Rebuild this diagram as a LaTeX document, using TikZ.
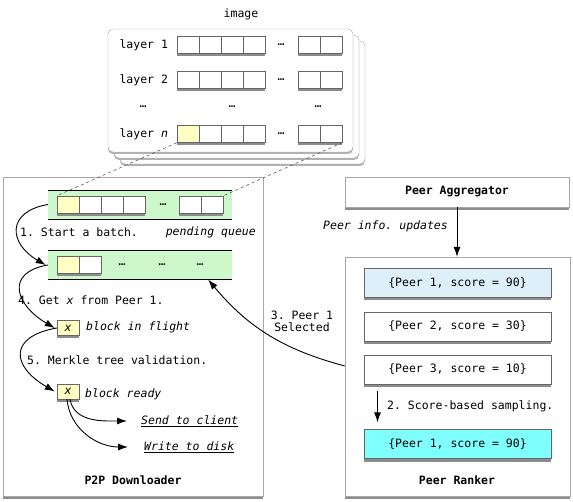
\documentclass[tikz,border=0pt]{standalone}
\usepackage{fontspec}
\setmainfont[Scale=1.15]{DejaVu Sans Mono}
\usepackage{tikz}
\usetikzlibrary{arrows.meta,positioning,shadows,calc}
\definecolor{cellyellow}{HTML}{FFFFC4}
\definecolor{queuegreen}{HTML}{CCF8CC}
\definecolor{peerblue}{HTML}{DDF0FA}
\definecolor{peercyan}{HTML}{80FFFF}
\definecolor{panelgray}{HTML}{A8A8A8}
\tikzset{
  lowshadow/.style={drop shadow={shadow xshift=0pt, shadow yshift=-3pt, fill=black!45, opacity=1}},
  panel/.style={draw=panelgray, fill=white, inner sep=0pt, lowshadow},
  layer/.style={draw=panelgray, fill=white, rounded corners=5pt, drop shadow={shadow xshift=0pt, shadow yshift=-2pt, fill=black!30, opacity=1}},
  cell/.style={draw=black!60, fill=white, minimum width=22pt, minimum height=17pt, inner sep=0pt, lowshadow},
  band/.style={fill=queuegreen, minimum width=184pt, minimum height=29pt, inner sep=0pt},
  block/.style={draw=black!60, fill=cellyellow, minimum width=22pt, minimum height=15pt, inner sep=0pt, lowshadow},
  peerbox/.style={draw=black!60, fill=white, minimum width=187pt, minimum height=29pt, lowshadow},
  note/.style={inner sep=2pt, anchor=west},
  arrow/.style={-{Latex[length=10pt,width=7pt]}, line width=0.9pt}
}

\begin{document}
\frenchspacing
\begin{tikzpicture}[x=1pt, y=1pt]
  \useasboundingbox (0,0) rectangle (573,501);

  % panels
  \node[panel, minimum width=260pt, minimum height=319pt] (dl) at (133,164.5) {};
  \node[panel, minimum width=224pt, minimum height=30pt] (aggr) at (457,309) {\bfseries Peer Aggregator};
  \node[panel, minimum width=225pt, minimum height=239pt] (ranker) at (457.5,124.5) {};

  % image
  \draw[layer] (120,460) rectangle (365,337);
  \draw[layer] (114,466) rectangle (359,343);
  \draw[layer] (108,472) rectangle (353,349);
  \node (imglabel) at (241,487) {image};
  \foreach \row/\y in {1/456, 2/421} {
    \node[anchor=east] (l\row lab) at (172,\y) {layer \row};
    \foreach \i/\x in {1/188, 2/210, 3/232, 4/254, 5/309, 6/331}
      \node[cell] (l\row c\i) at (\x,\y) {};
    \node (l\row dots) at (281,\y) {…};
  }
  \node (dotsa) at (143,394) {…};
  \node (dotsb) at (232,394) {…};
  \node (dotsc) at (318,394) {…};
  \node[anchor=east] (lnlab) at (172,367) {layer \textit{n}};
  \foreach \i/\x/\f in {1/188/cellyellow, 2/210/white, 3/232/white, 4/254/white, 5/309/white, 6/331/white}
    \node[cell, fill=\f] (lnc\i) at (\x,367) {};
  \node (lndots) at (281,367) {…};

  % pending queue
  \node[band] (queue) at (140,296.5) {};
  \draw (queue.north west) -- (queue.north east) (queue.south west) -- (queue.south east);
  \foreach \i/\x/\f in {1/68/cellyellow, 2/90/white, 3/112/white, 4/134/white, 5/190/white, 6/212/white}
    \node[cell, fill=\f] (q\i) at (\x,296.5) {};
  \node (qdots) at (163,296.5) {…};
  \draw[dashed, black!65, semithick] (lnc1.south west) -- (q1.north west);
  \draw[dashed, black!65, semithick] (lnc6.south east) -- (q6.north east);
  \node[note] (start) at (18,269) {1. Start a batch.};
  \node[note, anchor=east] (pending) at (258,269) {\itshape pending queue};

  % batch
  \node[band] (batch) at (140,236) {};
  \draw (batch.north west) -- (batch.north east) (batch.south west) -- (batch.south east);
  \node[cell, fill=cellyellow] (b1) at (68,236) {};
  \node[cell] (b2) at (90,236) {};
  \node (bdotsa) at (122,236) {…};
  \node (bdotsb) at (162,236) {…};
  \node (bdotsc) at (200,236) {…};

  \node[note] (get) at (16,201) {4. Get \textit{x} from Peer 1.};
  \node[block] (flight) at (68,173) {\itshape x};
  \node[note] (flightlab) at (84,174) {\itshape block in flight};
  \node[note] (merkle) at (25,141) {5. Merkle tree validation.};
  \node[block] (ready) at (68,109.5) {\itshape x};
  \node[note] (readylab) at (83,107) {\itshape block ready};
  \node[note] (send) at (139,80) {\underline{\itshape Send to client}};
  \node[note] (write) at (142,54) {\underline{\itshape Write to disk}};
  \node (dllab) at (133,21) {\bfseries P2P Downloader};

  \draw[arrow] (queue.west) to[out=190, in=150, looseness=1.8] ([xshift=-2pt]batch.west);
  \draw[arrow] (batch.west) to[out=190, in=150, looseness=1.8] ([xshift=-2pt]flight.west);
  \draw[arrow] (flight.west) to[out=190, in=150, looseness=2] ([xshift=-2pt]ready.west);
  \draw[arrow] ([xshift=2pt]ready.south) to[out=-80, in=180] ([xshift=-12pt]send.west);
  \draw[arrow] ([xshift=-1pt]ready.south) to[out=-85, in=180] ([xshift=-14pt]write.west);

  % peers
  \draw[arrow] (aggr.south) -- (aggr.south |- ranker.north);
  \node[note, anchor=east] (updates) at (450,275) {\itshape Peer info. updates};
  \node[peerbox, fill=peerblue] (p1) at (457.5,218) {\{Peer 1, score = 90\}};
  \node[peerbox] (p2) at (457.5,174.5) {\{Peer 2, score = 30\}};
  \node[peerbox] (p3) at (457.5,131.5) {\{Peer 3, score = 10\}};
  \node[peerbox, fill=peercyan] (p4) at (457.5,57) {\{Peer 1, score = 90\}};
  \draw[arrow] ([xshift=-80pt,yshift=-7pt]p3.south) -- ([xshift=-80pt,yshift=7pt]p4.north);
  \node[note] (sampling) at (385,95) {2. Score-based sampling.};
  \node (rankerlab) at (457,21) {\bfseries Peer Ranker};

  \node[align=center] (selected) at (302,180) {3. Peer 1\\Selected};
  \draw[arrow] ([yshift=10.5pt]ranker.west) to[out=165, in=-50] ([xshift=-24pt]batch.south east);
\end{tikzpicture}
\end{document}
